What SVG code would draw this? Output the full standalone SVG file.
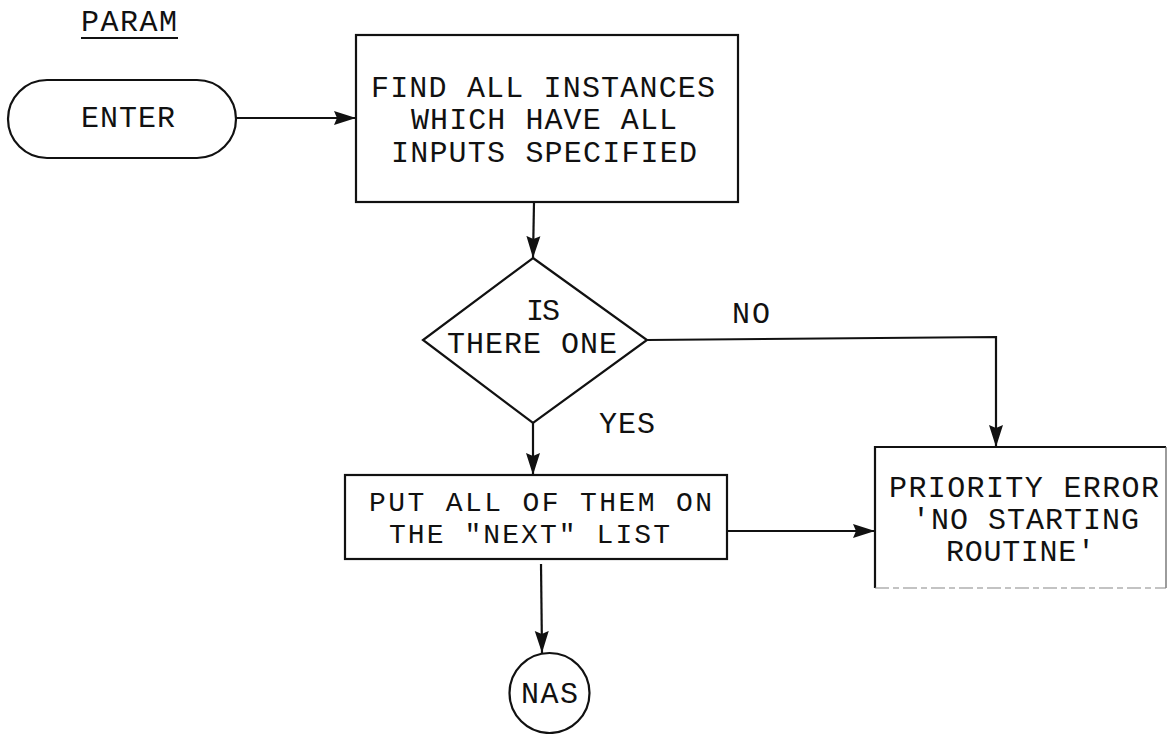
<svg xmlns="http://www.w3.org/2000/svg" width="1168" height="734" viewBox="0 0 1168 734">
<style>
  .t{font-family:"Liberation Mono","DejaVu Sans Mono",monospace;font-size:30px;fill:#111}
  .u{font-size:28px}
  .s{fill:#fff;stroke:#111;stroke-width:2.2}
  .c{fill:none;stroke:#111;stroke-width:2.2}
</style>
<defs>
  <marker id="ah" markerUnits="userSpaceOnUse" markerWidth="24" markerHeight="16" refX="22" refY="8" orient="auto">
    <path d="M0,1 L22,8 L0,15 L3,8 Z" fill="#111"/>
  </marker>
</defs>
<rect width="1168" height="734" fill="#fff"/>
<g id="title">
  <text class="t" x="81" y="31" textLength="96" lengthAdjust="spacing">PARAM</text>
  <line x1="81" y1="38" x2="178" y2="38" stroke="#111" stroke-width="2.2"/>
</g>
<g id="enter">
  <rect class="s" x="8" y="80" width="228" height="78" rx="39" ry="39"/>
  <text class="t" x="81" y="127" textLength="94" lengthAdjust="spacing">ENTER</text>
</g>
<g id="find">
  <rect class="s" x="356" y="35" width="382" height="167"/>
  <text class="t" x="371" y="97" textLength="344" lengthAdjust="spacing">FIND ALL INSTANCES</text>
  <text class="t" x="411" y="129" textLength="266" lengthAdjust="spacing">WHICH HAVE ALL</text>
  <text class="t" x="391" y="162" textLength="306" lengthAdjust="spacing">INPUTS SPECIFIED</text>
</g>
<g id="decision">
  <polygon class="s" points="533,258 647,340 533,423 423,340"/>
  <text class="t" x="526" y="320" textLength="34" lengthAdjust="spacing">IS</text>
  <text class="t" x="447" y="353" textLength="170" lengthAdjust="spacing">THERE ONE</text>
</g>
<g id="put">
  <rect class="s" x="345" y="475" width="382" height="84"/>
  <text class="t u" x="369" y="511" textLength="343" lengthAdjust="spacing">PUT ALL OF THEM ON</text>
  <text class="t u" x="389" y="543" textLength="281" lengthAdjust="spacing">THE "NEXT" LIST</text>
</g>
<g id="error">
  <path d="M875,588 L875,447 L1166,447" class="c"/>
  <path d="M1166,447 L1166,588" fill="none" stroke="#666" stroke-width="1.3"/>
  <path d="M875,588 L1166,588" fill="none" stroke="#888" stroke-width="1.2" stroke-dasharray="14,4,6,4"/>
  <text class="t" x="889" y="497" textLength="270" lengthAdjust="spacing">PRIORITY ERROR</text>
  <text class="t" x="912" y="529" textLength="227" lengthAdjust="spacing">'NO STARTING</text>
  <text class="t" x="946" y="561" textLength="149" lengthAdjust="spacing">ROUTINE'</text>
</g>
<g id="nas">
  <circle class="s" cx="549.5" cy="693" r="40"/>
  <text class="t" x="521" y="703" textLength="57" lengthAdjust="spacing">NAS</text>
</g>
<g id="connectors">
  <line class="c" x1="236" y1="118" x2="356" y2="118" marker-end="url(#ah)"/>
  <line class="c" x1="534" y1="202" x2="533" y2="258" marker-end="url(#ah)"/>
  <polyline class="c" points="647,340 996,337 996,447" marker-end="url(#ah)"/>
  <line class="c" x1="533" y1="423" x2="533" y2="475" marker-end="url(#ah)"/>
  <line class="c" x1="727" y1="531" x2="875" y2="531" marker-end="url(#ah)"/>
  <line class="c" x1="541" y1="564" x2="542" y2="653" marker-end="url(#ah)"/>
  <text class="t" x="732" y="323" textLength="38" lengthAdjust="spacing">NO</text>
  <text class="t" x="599" y="433" textLength="56" lengthAdjust="spacing">YES</text>
</g>
</svg>
